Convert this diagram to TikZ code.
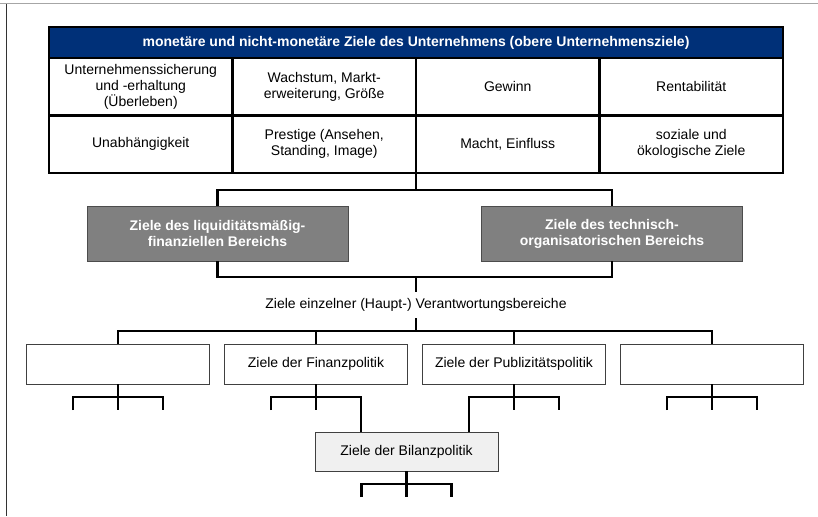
\documentclass[tikz,border=0pt]{standalone}
\usepackage{fontspec}
\setmainfont{Liberation Sans}
\definecolor{headblue}{RGB}{0,48,120}
\definecolor{areagray}{RGB}{128,128,128}
\definecolor{bilgray}{RGB}{240,240,240}

\begin{document}
\begin{tikzpicture}
      [
        x=1pt, y=-1pt,
        every node/.style={align=center, inner sep=0pt, outer sep=0pt,
          font=\fontsize{14}{16}\selectfont},
        cell/.style={draw, line width=2.8pt, minimum width=183.5pt, minimum height=57.5pt},
        headcell/.style={cell, fill=headblue, text=white, minimum width=734pt,
          minimum height=31pt, font=\bfseries\fontsize{14}{16}\selectfont},
        areabox/.style={draw=black!70, line width=0.8pt, fill=areagray, text=white,
          minimum width=261pt, minimum height=55pt, font=\bfseries\fontsize{14}{16}\selectfont},
        unitbox/.style={draw=black!75, line width=0.8pt, fill=white,
          minimum width=183pt, minimum height=40pt},
        bilbox/.style={unitbox, fill=bilgray, minimum height=39pt},
        conn/.style={line width=2.8pt}
      ]
      \useasboundingbox (0,0) rectangle (818,516);
      % frame
      \draw [black!35, line width=1pt] (0,4) -- (818,4);
      \draw [black!80, line width=1pt] (6,4) -- (6,516);
      \begin{scope}[]
        % table
        \node [headcell] (head) at (416,42.5) {monetäre und nicht-monetäre Ziele des Unternehmens (obere Unternehmensziele)};
        \node [cell] (c11) at (140.75,86.75) {Unternehmenssicherung\\und -erhaltung\\(Überleben)};
        \node [cell] (c12) at (324.25,86.75) {Wachstum, Markt-\\erweiterung, Größe};
        \node [cell] (c13) at (507.75,86.75) {Gewinn};
        \node [cell] (c14) at (691.25,86.75) {Rentabilität};
        \node [cell] (c21) at (140.75,144.25) {Unabhängigkeit};
        \node [cell] (c22) at (324.25,144.25) {Prestige (Ansehen,\\Standing, Image)};
        \node [cell] (c23) at (507.75,144.25) {Macht, Einfluss};
        \node [cell] (c24) at (691.25,144.25) {soziale und\\ökologische Ziele};
      \end{scope}
      \begin{scope}[]
        % areas
        \node [areabox] (fin) at (217.5,233.5) {Ziele des liquiditätsmäßig-\\finanziellen Bereichs};
        \node [areabox] (tech) at (612,233.5) {Ziele des technisch-\\organisatorischen Bereichs};
        \node [minimum height=26pt] (resp) at (416,305) {Ziele einzelner (Haupt-) Verantwortungsbereiche};
        % units
        \node [unitbox] (u1) at (118,364) {};
        \node [unitbox] (u2) at (316,364) {Ziele der Finanzpolitik};
        \node [unitbox] (u3) at (514,364) {Ziele der Publizitätspolitik};
        \node [unitbox] (u4) at (712,364) {};
        \node [bilbox] (bil) at (406.5,451.5) {Ziele der Bilanzpolitik};
      \end{scope}
      % connectors
      \coordinate (bar1) at (416,190);
      \coordinate (bar2) at (416,277);
      \coordinate (bar3) at (416,331);
      \draw [conn] (c22.south east) -- (bar1);
      \draw [conn] (fin.north) |- (bar1) -| (tech.north);
      \draw [conn] (fin.south) |- (bar2) -| (tech.south);
      \draw [conn] (bar2) -- (resp.north);
      \draw [conn] (resp.south) -- (bar3);
      \draw [conn] (u1.north) |- (bar3) -| (u4.north);
      \draw [conn] (u2.north) |- (bar3) -| (u3.north);
      % forks
      \foreach \n in {u1,u2,u3,u4,bil} {
        \draw [conn] (\n.south) -- ++(0,13) coordinate (\n-f) -- ++(0,13);
        \draw [conn] (\n-f) ++(-45,13) -- ++(0,-13) -- ++(90,0) -- ++(0,13);
      }
      \path (u2-f) ++(45,0) coordinate (u2-r);
      \path (u3-f) ++(-45,0) coordinate (u3-l);
      \draw [conn] (u2-r) -- (u2-r |- bil.north);
      \draw [conn] (u3-l) -- (u3-l |- bil.north);
    \end{tikzpicture}
\end{document}
